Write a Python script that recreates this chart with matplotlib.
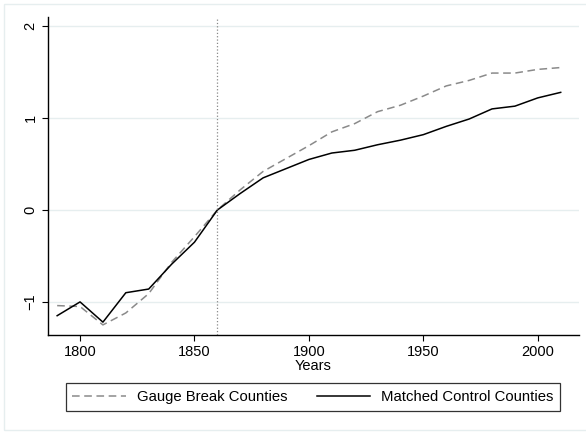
import matplotlib
matplotlib.use("Agg")
import matplotlib.pyplot as plt
from matplotlib.patches import Rectangle

plt.rcParams['font.family'] = ['Liberation Sans', 'DejaVu Sans']

# data
years = [1790, 1800, 1810, 1820, 1830, 1840, 1850, 1860, 1870, 1880, 1890,
         1900, 1910, 1920, 1930, 1940, 1950, 1960, 1970, 1980, 1990, 2000, 2010]
gauge_break = [-1.04, -1.05, -1.25, -1.12, -0.91, -0.57, -0.29, 0.0, 0.22, 0.42, 0.56,
               0.70, 0.85, 0.94, 1.07, 1.14, 1.24, 1.35, 1.41, 1.49, 1.49, 1.53, 1.55]
matched_ctrl = [-1.15, -1.00, -1.22, -0.90, -0.86, -0.59, -0.35, 0.0, 0.18, 0.35, 0.45,
                0.55, 0.62, 0.65, 0.71, 0.76, 0.82, 0.91, 0.99, 1.10, 1.13, 1.22, 1.28]
break_year = 1860
yticks = [-1, 0, 1, 2]
xticks = [1800, 1850, 1900, 1950, 2000]

W, H = 586, 432
fig = plt.figure(figsize=(W / 100, H / 100), dpi=100)
fig.patches.append(Rectangle((4 / W, 2 / H), 1.0, (H - 6) / H, transform=fig.transFigure,
                             fill=False, edgecolor='#e6eeef', lw=1.0))

ax = fig.add_axes([48 / W, (H - 335) / H, (579 - 48) / W, (335 - 17) / H])
ax.plot(years, gauge_break, color='#8a8a8a', ls=(0, (5, 3)), lw=1.1, label='Gauge Break Counties')
ax.plot(years, matched_ctrl, color='black', lw=1.1, label='Matched Control Counties')
ax.axvline(break_year, color='#888888', ls=':', lw=0.9)

ax.set_xlim(1786, 2018)
ax.set_ylim(-1.36, 2.1)
ax.set_yticks(yticks)
ax.set_xticks(xticks)
ax.grid(axis='y', color='#e6eeef', lw=1.0)
ax.set_axisbelow(True)
for s in ['top', 'right']:
    ax.spines[s].set_visible(False)
ax.spines['left'].set_linewidth(1.0)
ax.spines['bottom'].set_linewidth(1.0)
ax.tick_params(direction='out', length=4, width=0.8, labelsize=10.5)
for lab in ax.get_yticklabels():
    lab.set_rotation(90)
    lab.set_va('center')
ax.set_xlabel('Years', fontsize=10.5, labelpad=0)

leg = fig.legend(loc='center', bbox_to_anchor=((62 + 564) / 2 / W, 1 - 397 / H), ncol=2,
                 fontsize=10.7, handlelength=3.6, columnspacing=1.95, handletextpad=0.75,
                 fancybox=False, edgecolor='black', borderpad=0.45)
leg.get_frame().set_linewidth(0.9)

fig.savefig('out.png', dpi=100)
